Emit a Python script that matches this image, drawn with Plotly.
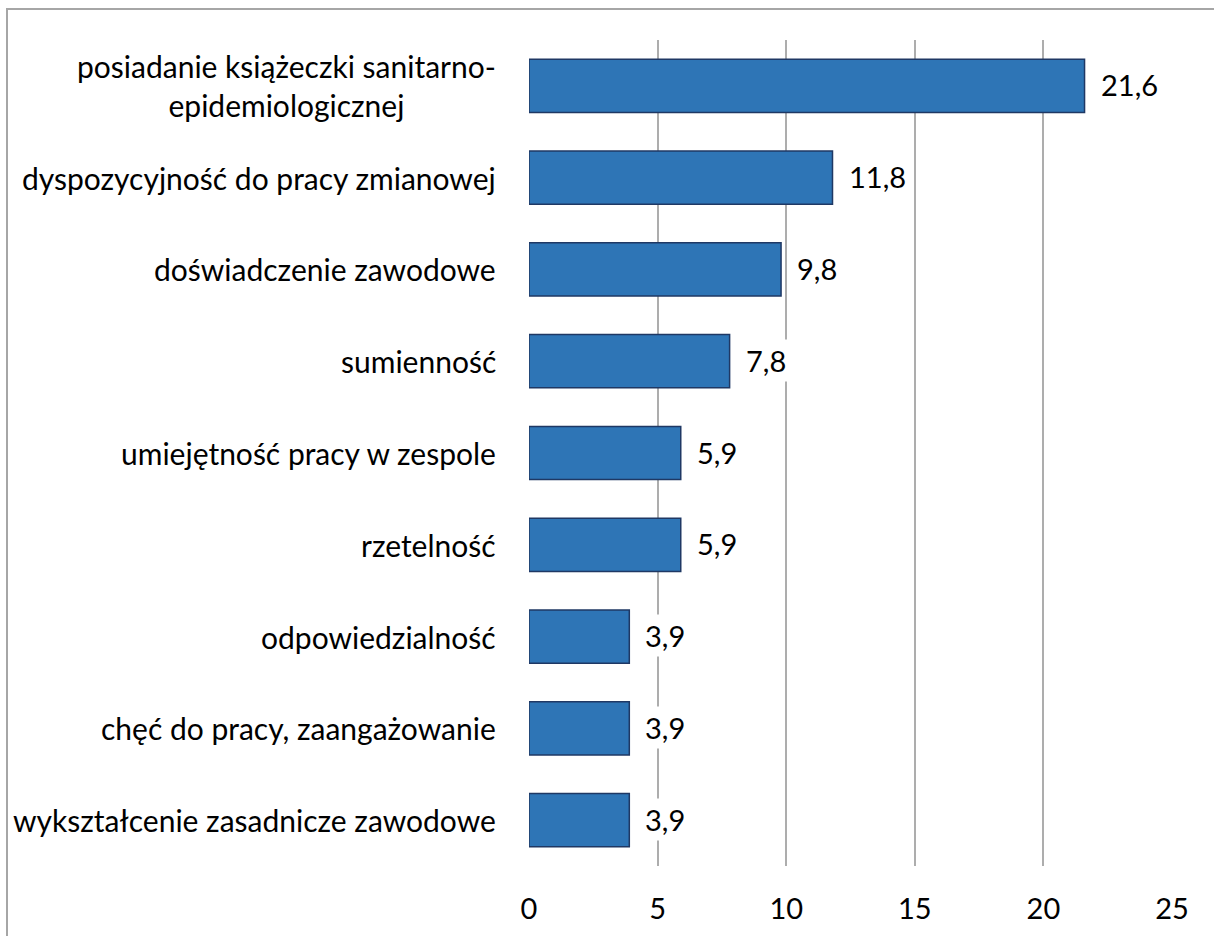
import plotly.graph_objects as go

categories = [
    "posiadanie książeczki sanitarno-<br>epidemiologicznej",
    "dyspozycyjność do pracy zmianowej",
    "doświadczenie zawodowe",
    "sumienność",
    "umiejętność pracy w zespole",
    "rzetelność",
    "odpowiedzialność",
    "chęć do pracy, zaangażowanie",
    "wykształcenie zasadnicze zawodowe",
]
values = [21.6, 11.8, 9.8, 7.8, 5.9, 5.9, 3.9, 3.9, 3.9]
x_ticks = [0, 5, 10, 15, 20, 25]

FONT = "Lato"
FS_CAT = 30
FS_NUM = 29

fig = go.Figure()
fig.add_trace(go.Bar(
    x=values,
    y=categories,
    orientation="h",
    marker=dict(color="#2E75B6", line=dict(color="#1F3864", width=1.5)),
    hoverinfo="skip",
))

for c, v in zip(categories, values):
    fig.add_annotation(
        x=0, y=c, xref="x", yref="y",
        text=c, showarrow=False,
        xanchor="right", yanchor="middle", align="center",
        xshift=-31,
        font=dict(family=FONT, size=FS_CAT, color="#000000"),
    )
    fig.add_annotation(
        x=v, y=c, xref="x", yref="y",
        text=f"{v:.1f}".replace(".", ","), showarrow=False,
        xanchor="left", yanchor="middle",
        xshift=12, yshift=1, bgcolor="white", borderpad=3,
        font=dict(family=FONT, size=FS_NUM, color="#000000"),
    )

fig.update_layout(
    width=1214, height=936,
    margin=dict(l=529, r=42, t=40, b=70),
    paper_bgcolor="white", plot_bgcolor="white",
    separators=",.",
    showlegend=False,
    bargap=0.42,
    xaxis=dict(
        range=[0, 25], tickvals=x_ticks,
        showgrid=True, gridcolor="#ADADAD", gridwidth=1.5,
        zeroline=False, showline=False,
        ticks="outside", ticklen=17, tickcolor="rgba(0,0,0,0)",
        tickfont=dict(family=FONT, size=FS_NUM, color="#000000"),
        fixedrange=True,
    ),
    yaxis=dict(
        categoryorder="array", categoryarray=categories[::-1],
        showticklabels=False, showgrid=False, zeroline=False, showline=False,
        fixedrange=True,
    ),
    shapes=[dict(
        type="rect", xref="paper", yref="paper",
        x0=(7 - 529) / 643, x1=(1230 - 529) / 643,
        y0=-0.2, y1=1 + 31 / 826,
        line=dict(color="#A6A6A6", width=2), fillcolor="rgba(0,0,0,0)",
        layer="below",
    )],
)

fig.write_html("out.html")
